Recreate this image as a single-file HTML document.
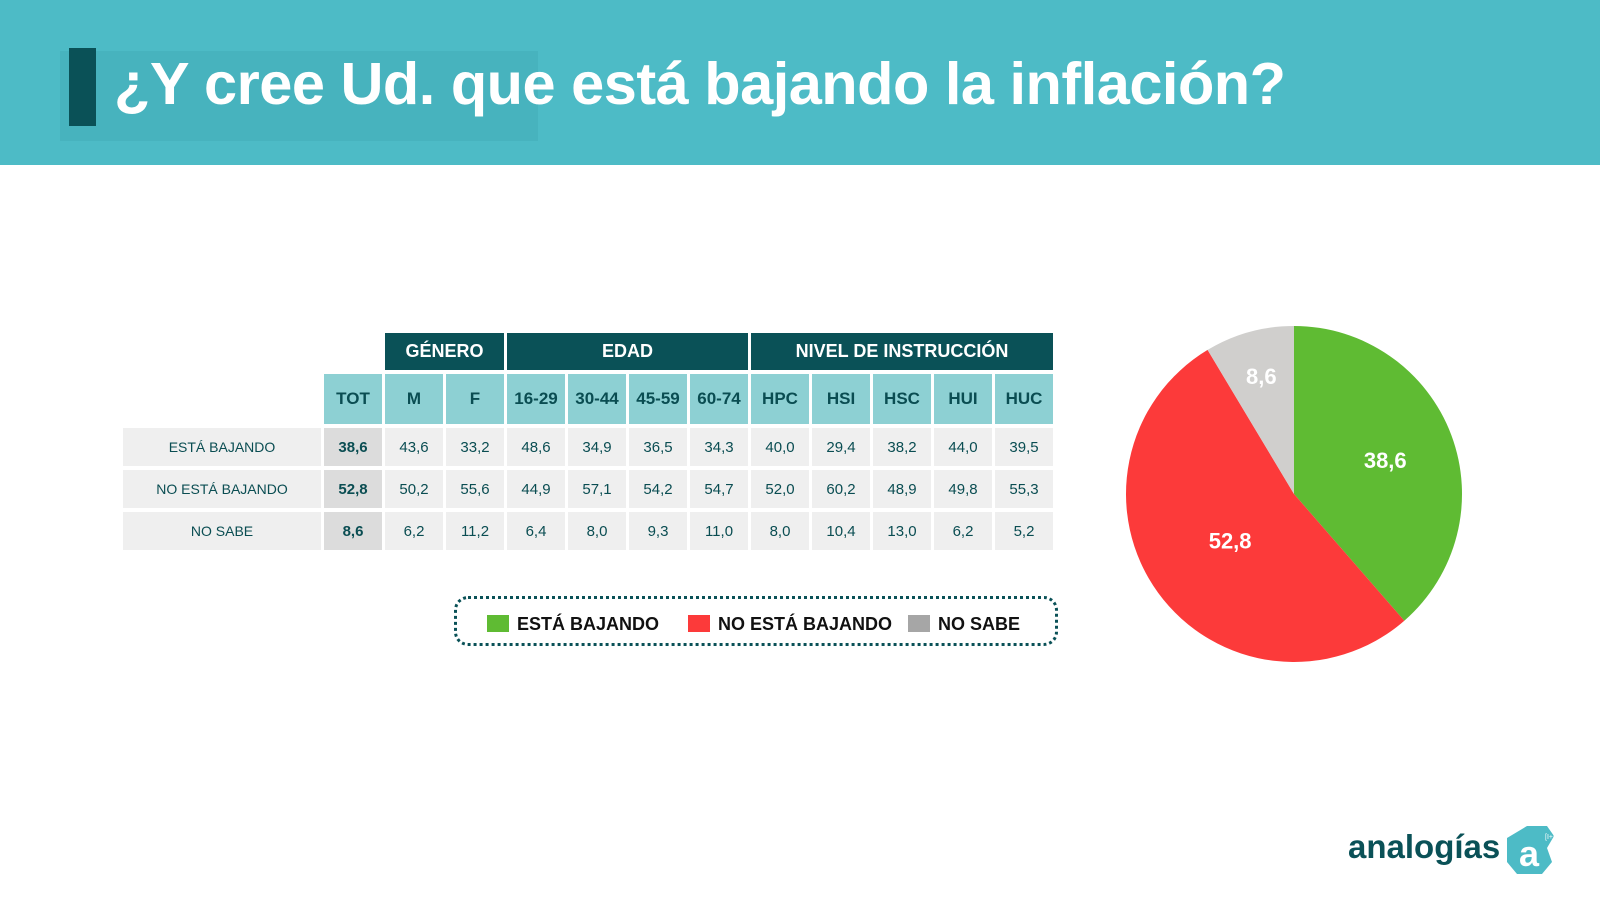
<!DOCTYPE html>
<html><head><meta charset="utf-8"><style>
body{margin:0;width:1600px;height:909px;background:#fff;font-family:"Liberation Sans",sans-serif;position:relative;overflow:hidden}
.hdr{position:absolute;left:0;top:0;width:1600px;height:165px;background:#4dbbc6}
.hl{position:absolute;left:60px;top:51px;width:478px;height:90px;background:#47b3be}
.bar{position:absolute;left:69px;top:48px;width:27px;height:78px;background:#0a5157}
.title{position:absolute;left:114px;top:49px;font-size:59.5px;font-weight:bold;color:#fff;white-space:nowrap;letter-spacing:-0.5px}
table{position:absolute;left:123px;top:333px;border-collapse:separate;border-spacing:3px 4px;margin:-4px -3px}
td{text-align:center;font-size:15px;color:#0a4d52;padding:0}
.dk{background:#0a5157;color:#fff;font-weight:bold;font-size:18px;height:37px}
.lt{background:#8dd0d3;font-weight:bold;font-size:17px;height:50px;color:#0a4d52}
.rl{background:#efefef;width:198px;height:38px;font-size:14px}
.tot{background:#dcdcdc;font-weight:bold;width:58px}
.c{background:#efefef;width:58px}
.legend{position:absolute;left:454px;top:596px;width:604px;height:50px;border:3px dotted #0a5157;border-radius:14px;box-sizing:border-box}
.li{position:absolute;top:15px;font-size:18px;font-weight:bold;color:#111;white-space:nowrap}
.sw{display:inline-block;width:22px;height:17px;vertical-align:-2px;margin-right:8px}
.logo{position:absolute;left:1348px;top:828px;font-size:33px;font-weight:bold;color:#0a5157}
</style></head><body>
<div class="hdr"></div>
<div class="hl"></div>
<div class="bar"></div>
<div class="title">¿Y cree Ud. que está bajando la inflación?</div>

<table>
<tr><td></td><td></td><td class="dk" colspan="2">GÉNERO</td><td class="dk" colspan="4">EDAD</td><td class="dk" colspan="5">NIVEL DE INSTRUCCIÓN</td></tr>
<tr><td></td><td class="lt">TOT</td><td class="lt">M</td><td class="lt">F</td><td class="lt">16-29</td><td class="lt">30-44</td><td class="lt">45-59</td><td class="lt">60-74</td><td class="lt">HPC</td><td class="lt">HSI</td><td class="lt">HSC</td><td class="lt">HUI</td><td class="lt">HUC</td></tr>
<tr><td class="rl">ESTÁ BAJANDO</td><td class="tot">38,6</td><td class="c">43,6</td><td class="c">33,2</td><td class="c">48,6</td><td class="c">34,9</td><td class="c">36,5</td><td class="c">34,3</td><td class="c">40,0</td><td class="c">29,4</td><td class="c">38,2</td><td class="c">44,0</td><td class="c">39,5</td></tr>
<tr><td class="rl">NO ESTÁ BAJANDO</td><td class="tot">52,8</td><td class="c">50,2</td><td class="c">55,6</td><td class="c">44,9</td><td class="c">57,1</td><td class="c">54,2</td><td class="c">54,7</td><td class="c">52,0</td><td class="c">60,2</td><td class="c">48,9</td><td class="c">49,8</td><td class="c">55,3</td></tr>
<tr><td class="rl">NO SABE</td><td class="tot">8,6</td><td class="c">6,2</td><td class="c">11,2</td><td class="c">6,4</td><td class="c">8,0</td><td class="c">9,3</td><td class="c">11,0</td><td class="c">8,0</td><td class="c">10,4</td><td class="c">13,0</td><td class="c">6,2</td><td class="c">5,2</td></tr>
</table>

<div class="legend">
<div class="li" style="left:30px"><span class="sw" style="background:#5fbb33"></span>ESTÁ BAJANDO</div>
<div class="li" style="left:231px"><span class="sw" style="background:#fc3a3a"></span>NO ESTÁ BAJANDO</div>
<div class="li" style="left:451px"><span class="sw" style="background:#a6a6a6"></span>NO SABE</div>
</div>

<svg id="pie" width="1600" height="909" style="position:absolute;left:0;top:0"></svg>

<div class="logo">analogías</div>
<svg style="position:absolute;left:1502px;top:822px" width="60" height="56">
<polygon points="25,4 45,4 52,14 45,26 50,40 40,52 15,52 5,40 5,16" fill="#4dbbc6"/>
<text x="27" y="44" font-size="36" font-weight="bold" fill="#fff" text-anchor="middle" font-family="Liberation Sans">a</text>
<text x="43" y="17" font-size="7" fill="#fff" font-family="Liberation Sans">[I+E]</text>
</svg>

<script>
const labels = ["38,6","52,8","8,6"];
const values = [38.6, 52.8, 8.6];
const colors = ["#5fbb33","#fc3a3a","#d0cfcd"];
const names = ["esta-bajando","no-esta-bajando","no-sabe"];
const svg = document.getElementById('pie');
const cx=1294, cy=494, r=168, NS="http://www.w3.org/2000/svg";
const total = values.reduce((a,b)=>a+b,0);
let a0 = -Math.PI/2;
values.forEach((v,i)=>{
  const a1 = a0 + v/total*2*Math.PI;
  const large = (a1-a0)>Math.PI?1:0;
  const p = document.createElementNS(NS,'path');
  p.setAttribute('d',`M${cx},${cy} L${cx+r*Math.cos(a0)},${cy+r*Math.sin(a0)} A${r},${r} 0 ${large} 1 ${cx+r*Math.cos(a1)},${cy+r*Math.sin(a1)} Z`);
  p.setAttribute('fill',colors[i]);
  
  
  svg.appendChild(p);
  const am=(a0+a1)/2, lr = v<15 ? r*0.73 : (v>50 ? r*0.47 : r*0.58);
  const t = document.createElementNS(NS,'text');
  t.setAttribute('x',cx+lr*Math.cos(am));
  t.setAttribute('y',cy+lr*Math.sin(am)+8);
  t.setAttribute('text-anchor','middle');
  t.setAttribute('font-size','22');
  t.setAttribute('font-weight','bold');
  t.setAttribute('fill','#fff');
  t.setAttribute('font-family','Liberation Sans, sans-serif');
  t.textContent = labels[i];
  
  
  svg.appendChild(t);
  a0=a1;
});
</script>
</body></html>
